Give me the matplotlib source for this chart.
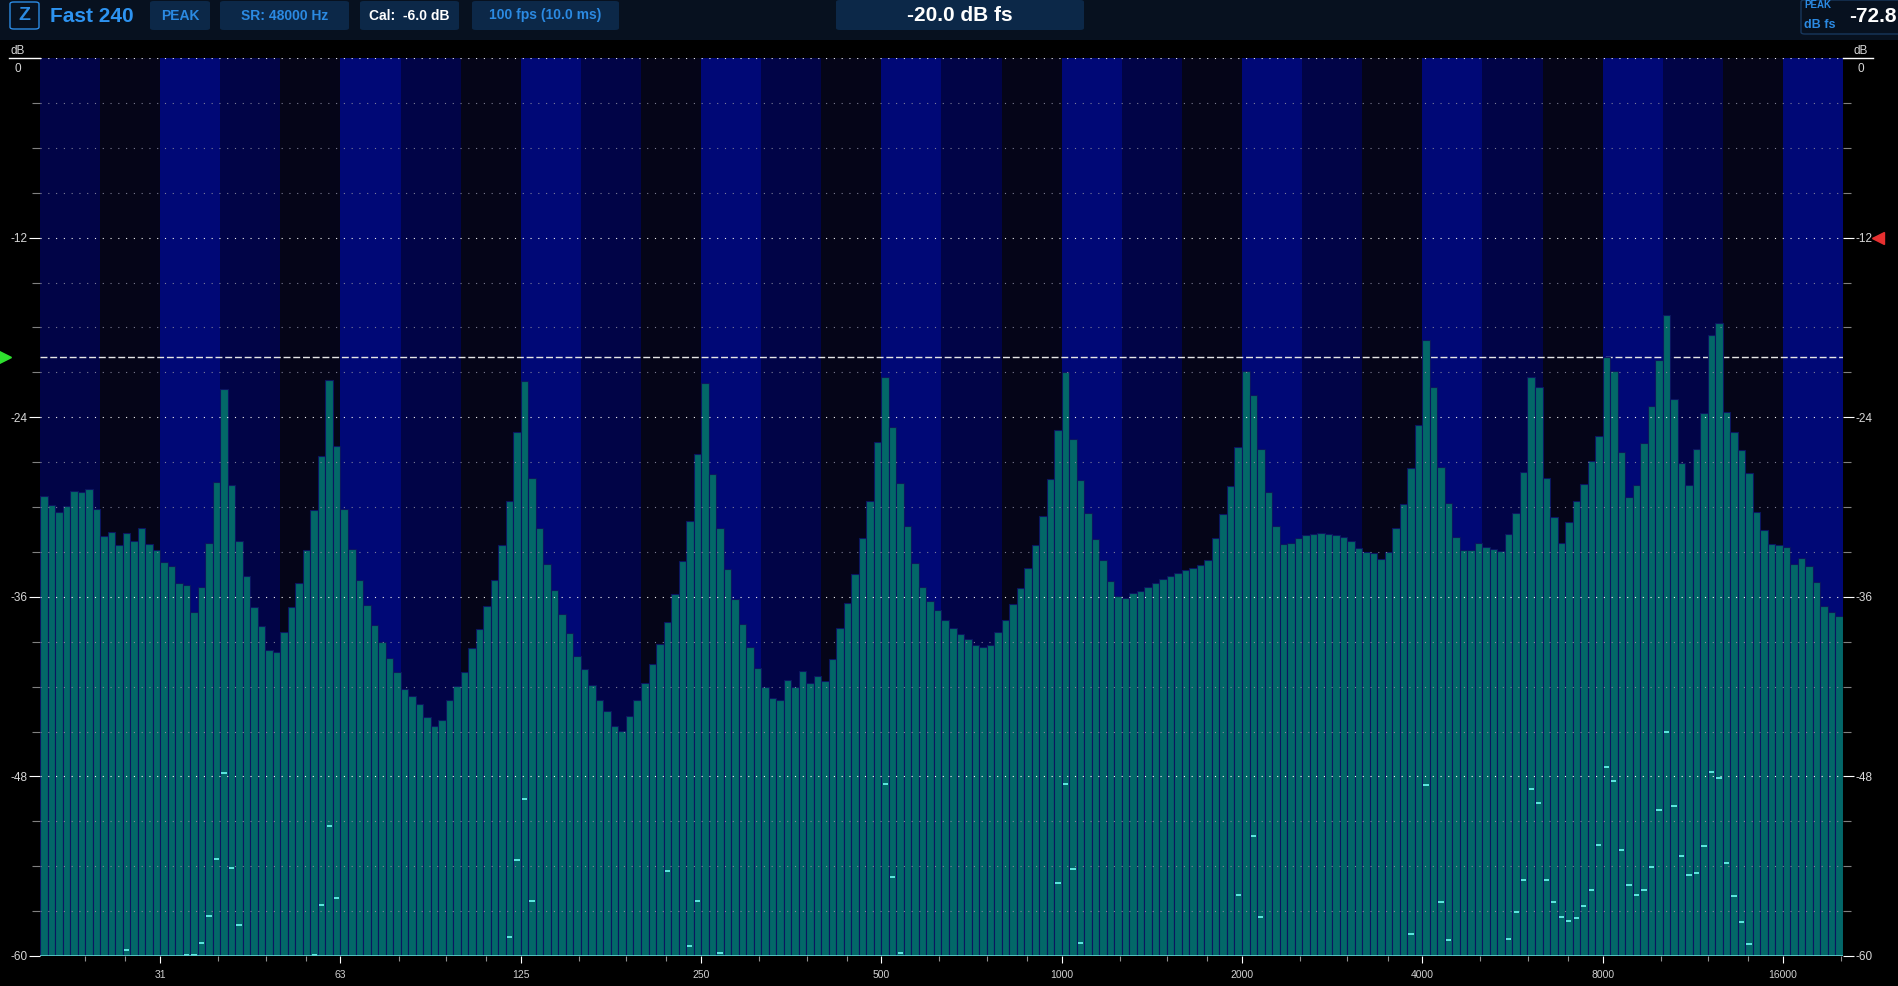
import numpy as np
import matplotlib.pyplot as plt
from matplotlib.patches import FancyBboxPatch, Rectangle
from matplotlib.ticker import NullFormatter
from matplotlib.transforms import blended_transform_factory

plt.rcParams['font.family'] = ['Liberation Sans', 'DejaVu Sans']

W, H = 1899, 986

# 240 bins of 1/24 octave, bin 137 sits on 1 kHz
n_bins = 240
levels = [
    -29.25, -29.86, -30.32, -29.92, -28.92, -28.99, -28.79, -30.12, -31.93, -31.66, -32.53, -31.72,
    -32.24, -31.39, -32.46, -32.86, -33.66, -33.93, -35.06, -35.20, -37.00, -35.33, -32.39, -28.32,
    -22.11, -28.52, -32.26, -34.64, -36.67, -37.94, -39.54, -39.67, -38.34, -36.67, -35.06, -32.86,
    -30.19, -26.58, -21.51, -25.91, -30.12, -32.79, -34.86, -36.53, -37.87, -39.05, -40.07, -41.01,
    -42.14, -42.61, -43.15, -44.01, -44.61, -44.21, -42.88, -41.99, -41.01, -39.41, -38.14, -36.60,
    -34.86, -32.53, -29.59, -24.98, -21.57, -28.05, -31.39, -33.80, -35.53, -37.13, -38.40, -39.94,
    -40.81, -41.88, -42.88, -43.61, -44.61, -44.95, -43.95, -42.88, -41.74, -40.48, -39.14, -37.67,
    -35.80, -33.59, -30.92, -26.45, -21.73, -27.78, -31.39, -34.13, -36.13, -37.80, -39.34, -40.75,
    -42.01, -42.74, -42.88, -41.54, -42.01, -40.94, -41.74, -41.27, -41.61, -40.14, -38.07, -36.40,
    -34.46, -32.06, -29.59, -25.65, -21.31, -24.65, -28.39, -31.26, -33.73, -35.33, -36.27, -36.87,
    -37.54, -38.07, -38.47, -38.80, -39.20, -39.34, -39.20, -38.34, -37.54, -36.47, -35.40, -34.06,
    -32.53, -30.59, -28.12, -24.85, -20.97, -25.45, -28.19, -30.39, -32.13, -33.53, -34.93, -35.93,
    -36.07, -35.73, -35.60, -35.33, -35.06, -34.80, -34.60, -34.40, -34.20, -34.06, -33.86, -33.53,
    -32.06, -30.46, -28.59, -25.98, -20.90, -22.51, -26.12, -28.99, -31.26, -32.46, -32.39, -32.06,
    -31.86, -31.79, -31.72, -31.79, -31.86, -31.99, -32.26, -32.73, -33.00, -33.06, -33.46, -33.00,
    -31.39, -29.79, -27.38, -24.51, -18.84, -21.97, -27.32, -29.72, -31.99, -32.86, -32.86, -32.39,
    -32.66, -32.79, -32.93, -31.79, -30.39, -27.65, -21.31, -21.97, -28.05, -30.66, -32.39, -30.99,
    -29.59, -28.45, -26.95, -25.25, -19.99, -20.90, -26.32, -29.32, -28.52, -25.72, -23.24, -20.17,
    -17.17, -22.78, -27.05, -28.52, -26.12, -23.71, -18.50, -17.70, -23.64, -24.98, -26.18, -27.72,
    -30.32, -31.52, -32.46, -32.53, -32.66, -33.80, -33.39, -33.93, -35.00, -36.60, -37.00, -37.27,
]

# small peak-hold dashes inside the bars (bin number, dB)
hold_bins = [12, 20, 21, 22, 23, 24, 25, 26, 27, 37, 38, 39, 40, 63, 64, 65, 66, 84, 87, 88, 91,
             113, 114, 115, 136, 137, 138, 139, 160, 162, 163, 183, 185, 187, 188,
             196, 197, 198, 199, 200, 201, 202, 203, 204, 205, 206, 207, 208, 209, 210, 211, 212,
             213, 214, 215, 216, 217, 218, 219, 220, 221, 222, 223, 224, 225, 226, 227, 228]
hold_levels = [-59.6, -59.9, -59.9, -59.1, -57.3, -53.5, -47.8, -54.1, -57.9, -59.9, -56.6, -51.3,
               -56.1, -58.75, -53.6, -49.5, -56.3, -54.3, -59.3, -56.3, -59.8,
               -48.5, -54.7, -59.8, -55.1, -48.5, -54.2, -59.1, -55.9, -52.0, -57.4, -58.5, -48.6,
               -56.4, -58.9,
               -58.87, -57.07, -54.93, -48.87, -49.78, -54.93, -56.4, -57.4, -57.67, -57.47, -56.64,
               -55.6, -52.6, -47.4, -48.33, -52.91, -55.27, -55.93, -55.6, -54.07, -50.27, -45.0,
               -50.0, -53.33, -54.6, -54.47, -52.67, -47.73, -48.13, -53.8, -55.98, -57.73, -59.2]

xtick_freqs = [31.25, 62.5, 125, 250, 500, 1000, 2000, 4000, 8000, 16000]
xtick_labels = ['31', '63', '125', '250', '500', '1000', '2000', '4000', '8000', '16000']
ytick_vals = [-60, -48, -36, -24, -12]
ref_level = -20.0
alarm_level = -12.0


def fx(px):
    return px / W


def fy(py):
    return 1 - py / H


fig = plt.figure(figsize=(W / 100, H / 100), dpi=100, facecolor='black')

# header strip
fig.add_artist(Rectangle((0, fy(40)), 1, 40 / H, transform=fig.transFigure,
                         fc='#07111f', ec='none', zorder=0))


def box(x0, y0, x1, y1, fc, ec='none'):
    fig.add_artist(FancyBboxPatch((fx(x0), fy(y1)), (x1 - x0) / W, (y1 - y0) / H,
                                  boxstyle='round,pad=0,rounding_size=0.002',
                                  transform=fig.transFigure, fc=fc, ec=ec, lw=1, zorder=1))


blue_txt = '#2b8ae2'
box_fc = '#0c2848'
box(10, 2, 39, 29, 'none', ec='#2b8ae2')
fig.text(fx(24.5), fy(16), 'Z', ha='center', va='center', color=blue_txt, fontsize=14, weight='bold')
fig.text(fx(50), fy(16), 'Fast 240', ha='left', va='center', color='#2d93f0', fontsize=15, weight='bold')
box(150, 1, 210, 30, box_fc)
fig.text(fx(180), fy(15.5), 'PEAK', ha='center', va='center', color=blue_txt, fontsize=10,
         weight='bold')
box(220, 1, 349, 30, box_fc)
fig.text(fx(284.5), fy(15.5), 'SR: 48000 Hz', ha='center', va='center', color=blue_txt, fontsize=10,
         weight='bold')
box(360, 1, 459, 30, box_fc)
fig.text(fx(409.5), fy(15.5), 'Cal:  -6.0 dB', ha='center', va='center', color='white', fontsize=10,
         weight='bold')
box(472, 1, 619, 30, box_fc)
fig.text(fx(545.5), fy(15.5), '100 fps (10.0 ms)', ha='center', va='center', color=blue_txt,
         fontsize=10, weight='bold')
box(836, 0, 1084, 30, box_fc)
fig.text(fx(960), fy(15.5), '%.1f dB fs' % ref_level, ha='center', va='center', color='white',
         fontsize=15, weight='bold')
box(1801, 0, 1905, 34, '#07111f', ec='#17375c')
fig.text(fx(1804), fy(5), 'PEAK', ha='left', va='center', color=blue_txt, fontsize=7, weight='bold')
fig.text(fx(1804), fy(25), 'dB fs', ha='left', va='center', color=blue_txt, fontsize=9, weight='bold')
fig.text(fx(1897), fy(17), '-72.8', ha='right', va='center', color='white', fontsize=15, weight='bold')

# spectrum axes
ax = fig.add_axes([fx(40), fy(956), (1843 - 40) / W, (956 - 58) / H])
ax.set_facecolor('black')
ax.set_xscale('log')

f_lo = 1000 * 2 ** (-136 / 24)
edges = f_lo * 2 ** (np.arange(n_bins + 1) / 24)
ax.set_xlim(edges[0], edges[-1])
ax.set_ylim(-60, 0)

# third-octave background bands
band_cols = ['#010447', '#050518', '#000876']
for k in range(n_bins // 8):
    ax.axvspan(edges[8 * k], edges[8 * k + 8], color=band_cols[k % 3], lw=0, zorder=0)

ax.axhline(ref_level, color='#e6e6e6', lw=1.0, ls=(0, (5, 2)), zorder=1.5)

ax.bar(edges[:-1], np.array(levels) + 60, width=np.diff(edges), bottom=-60, align='edge',
       color='#036868', edgecolor='#0b1660', linewidth=0.8, zorder=2)

for lv in range(-57, 1, 3):
    major = lv % 12 == 0
    ax.axhline(lv, color='#f2f2f2' if major else '#8a8aa0', lw=0.8, ls=(0, (1, 6)),
               alpha=1.0 if major else 0.9, zorder=3)
ax.axhline(-60, color='#5fd0d0', lw=1.2, zorder=4)

hb = np.array(hold_bins) - 1
ax.hlines(hold_levels, edges[hb] * 2 ** (0.15 / 24), edges[hb + 1] * 2 ** (-0.15 / 24),
          color='#5ee8e0', lw=1.4, zorder=3.5)

for s in ax.spines.values():
    s.set_visible(False)

ax.set_xticks(xtick_freqs)
ax.set_xticklabels(xtick_labels)
minor_f = [b * m for b in 15.625 * 2.0 ** np.arange(11) for m in (1.25, 1.5, 1.75)]
minor_f = [f for f in minor_f if edges[0] < f < edges[-1]]
ax.set_xticks(minor_f, minor=True)
ax.xaxis.set_minor_formatter(NullFormatter())
ax.tick_params(axis='x', which='major', length=5, width=0.8, color='white',
               labelsize=7.5, labelcolor='#d0d0d0', pad=5)
ax.tick_params(axis='x', which='minor', length=3.5, width=0.8, color='#909090')

ax.set_yticks(ytick_vals)
ax.set_yticklabels([str(v) for v in ytick_vals])
ax.set_yticks([v for v in range(-57, 0, 3) if v % 12 != 0], minor=True)
ax.tick_params(axis='y', which='major', left=True, right=True, labelleft=True, labelright=True,
               length=8, width=0.8, color='white', labelsize=8.5, labelcolor='#d8d8d8', pad=1)
ax.tick_params(axis='y', which='minor', left=True, right=True, length=6, width=0.8, color='#808080')

# 0 dB mark with the dB caption above it, on both sides
tr = blended_transform_factory(ax.transAxes, ax.transData)
span = 1843 - 40
ax.plot([-31 / span, 0], [0, 0], transform=tr, color='white', lw=1, clip_on=False)
ax.plot([1, 1 + 30 / span], [0, 0], transform=tr, color='white', lw=1, clip_on=False)
for xa, dx in ((0, -22.5), (1, 18)):
    ax.annotate('dB', xy=(xa, 0), xycoords=tr, xytext=(dx, 7), textcoords='offset pixels',
                ha='center', va='center', color='#d8d8d8', fontsize=8.5)
    ax.annotate('0', xy=(xa, 0), xycoords=tr, xytext=(dx, -11), textcoords='offset pixels',
                ha='center', va='center', color='#d8d8d8', fontsize=8.5)

# reference and alarm markers
ax.plot([-0.0194], [ref_level], marker='>', ms=8, color='#2fe02f', transform=tr, clip_on=False)
ax.plot([1.0194], [alarm_level], marker='<', ms=8, color='#e83030', transform=tr, clip_on=False)

fig.savefig('out.png', dpi=100, facecolor='black')
